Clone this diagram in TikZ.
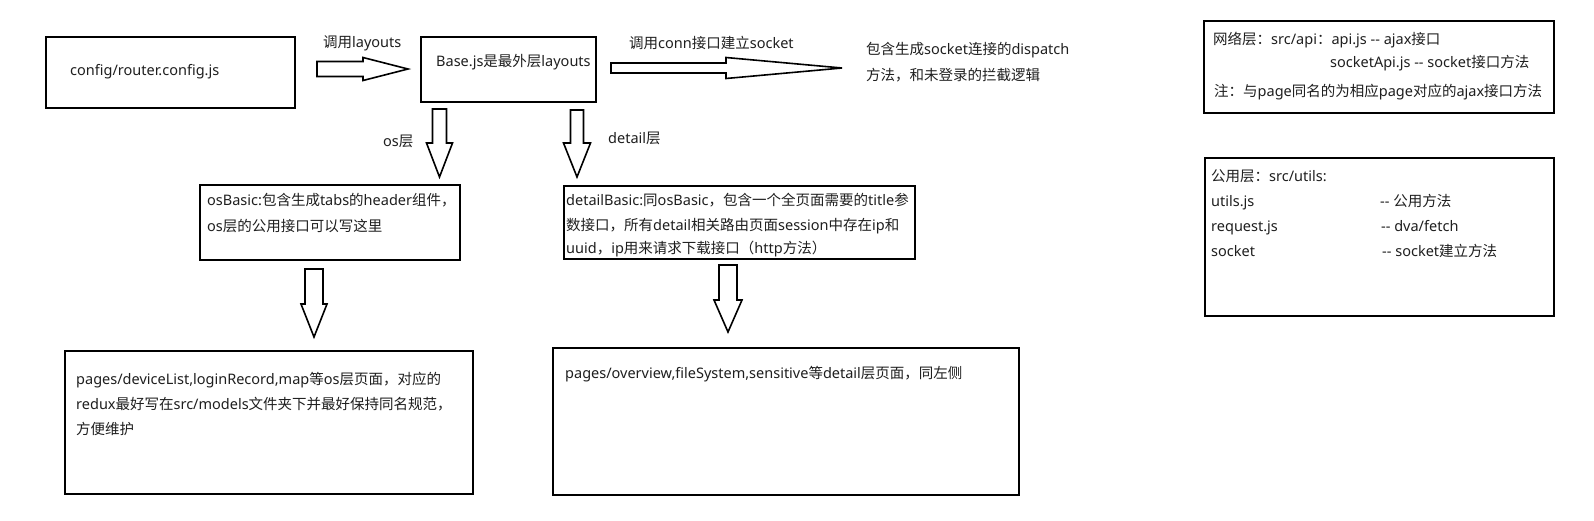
\documentclass[tikz,border=0pt]{standalone}
\usepackage{fontspec}
\newfontfamily\latinfont{Noto Sans}
\newfontfamily\cjkfont{Noto Sans CJK SC}
\XeTeXinterchartokenstate=1
\newXeTeXintercharclass\cjkclass
\makeatletter
\newcommand{\setcjkrange}[2]{%
  \count@=#1\relax
  \loop
    \XeTeXcharclass\count@=\cjkclass
    \ifnum\count@<#2\relax
    \advance\count@ by 1\relax
  \repeat}
\makeatother
\setcjkrange{"3000}{"303F}
\setcjkrange{"4E00}{"9FFF}
\setcjkrange{"FF00}{"FFEF}
\XeTeXinterchartoks 0 \cjkclass = {\cjkfont}
\XeTeXinterchartoks 4095 \cjkclass = {\cjkfont}
\XeTeXinterchartoks \cjkclass 0 = {\latinfont}
\usetikzlibrary{calc}
\newcommand{\harrowfrom}[5]{%
  \draw[blk] let \p1=(#1), \p2=(#2) in
    (\x1,\y1+#3) -- (\x2-#5,\y1+#3) -- (\x2-#5,\y1+#4) -- (\x2,\y2) --
    (\x2-#5,\y1-#4) -- (\x2-#5,\y1-#3) -- (\x1,\y1-#3) -- cycle;}
\newcommand{\varrowfrom}[5]{%
  \draw[blk] let \p1=(#1), \p2=(#2) in
    (\x1-#3,\y1) -- (\x1-#3,\y2+#5) -- (\x1-#4,\y2+#5) -- (\x2,\y2) --
    (\x1+#4,\y2+#5) -- (\x1+#3,\y2+#5) -- (\x1+#3,\y1) -- cycle;}
\begin{document}
\begin{tikzpicture}[x=1pt,y=-1pt,
  font=\latinfont\fontsize{14.5}{25}\selectfont, text=black!88,
  box/.style={draw, line width=2.2pt, inner sep=0pt, anchor=north west},
  txt/.style={anchor=base west, inner sep=0pt},
  blk/.style={draw, line width=1.6pt, fill=white, line join=miter}]
\useasboundingbox (0,0) rectangle (1594,520);
\fill[white] (0,0) rectangle (1594,520);

% boxes
\node[box, minimum width=249pt, minimum height=71pt] (cfg) at (45,36) {};
\node[box, minimum width=175pt, minimum height=65pt] (base) at (420,36) {};
\node[box, minimum width=260pt, minimum height=75pt] (osb) at (199,184) {};
\node[box, minimum width=351pt, minimum height=73pt] (detb) at (563,185) {};
\node[box, minimum width=408pt, minimum height=143pt] (osp) at (64,350) {};
\node[box, minimum width=466pt, minimum height=147pt] (detp) at (552,347) {};
\node[box, minimum width=350pt, minimum height=92pt] (net) at (1203,20) {};
\node[box, minimum width=349pt, minimum height=158pt] (util) at (1204,157) {};

% texts
\node[txt] (cfgt) at (70,75) {config/router.config.js};
\node[txt] (l1) at (323,47) {调用layouts};
\node[txt] (baset) at (436,66) {Base.js是最外层layouts};
\node[txt] (l2) at (629,48) {调用conn接口建立socket};
\node[txt] (r1) at (866,54) {包含生成socket连接的dispatch};
\node[txt] (r2) at (866,80) {方法，和未登录的拦截逻辑};
\node[txt] (l3) at (383,146) {os层};
\node[txt] (l4) at (608,143) {detail层};
\node[txt] (osb1) at (207,205) {osBasic:包含生成tabs的header组件，};
\node[txt] (osb2) at (207,231) {os层的公用接口可以写这里};
\node[txt] (detb1) at (566,205) {detailBasic:同osBasic，包含一个全页面需要的title参};
\node[txt] (detb2) at (566,230) {数接口，所有detail相关路由页面session中存在ip和};
\node[txt] (detb3) at (566,253) {uuid，ip用来请求下载接口（http方法）};
\node[txt] (osp1) at (76,384) {pages/deviceList,loginRecord,map等os层页面，对应的};
\node[txt] (osp2) at (76,409) {redux最好写在src/models文件夹下并最好保持同名规范，};
\node[txt] (osp3) at (76,434) {方便维护};
\node[txt] (detp1) at (565,378) {pages/overview,fileSystem,sensitive等detail层页面，同左侧};
\node[txt] (net1) at (1213,44) {网络层：src/api：api.js -- ajax接口};
\node[txt] (net2) at (1330,67) {socketApi.js -- socket接口方法};
\node[txt] (net3) at (1214,96) {注：与page同名的为相应page对应的ajax接口方法};
\node[txt] (u1) at (1211,181) {公用层：src/utils:};
\node[txt] (u2) at (1211,206) {utils.js};
\node[txt] (u3) at (1211,231) {request.js};
\node[txt] (u4) at (1211,256) {socket};
\node[txt] (u2b) at (1380,206) {-- 公用方法};
\node[txt] (u3b) at (1381,231) {-- dva/fetch};
\node[txt] (u4b) at (1382,256) {-- socket建立方法};

% block arrows
\coordinate (a1s) at (317,69);   \coordinate (a1e) at (408,69);
\coordinate (a2s) at (611,68);   \coordinate (a2e) at (842,68);
\coordinate (a3s) at (439.5,109); \coordinate (a3e) at (439.5,177);
\coordinate (a4s) at (577,110);  \coordinate (a4e) at (577,177);
\coordinate (a5s) at (314,269);  \coordinate (a5e) at (314,337);
\coordinate (a6s) at (728,265);  \coordinate (a6e) at (728,332);
\harrowfrom{a1s}{a1e}{7.5pt}{11.5pt}{45pt}
\harrowfrom{a2s}{a2e}{5pt}{10.5pt}{116pt}
\varrowfrom{a3s}{a3e}{7pt}{13pt}{34pt}
\varrowfrom{a4s}{a4e}{6.5pt}{13.5pt}{34pt}
\varrowfrom{a5s}{a5e}{9pt}{13pt}{33pt}
\varrowfrom{a6s}{a6e}{9pt}{14pt}{32pt}
\end{tikzpicture}
\end{document}
